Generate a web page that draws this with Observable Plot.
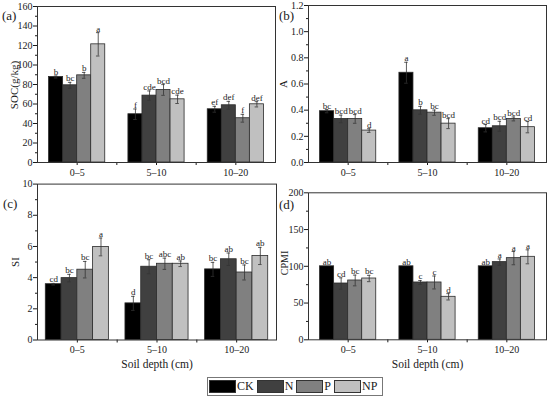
<!DOCTYPE html>
<html><head><meta charset="utf-8">
<script src="https://cdn.jsdelivr.net/npm/d3@7"></script>
<script src="https://cdn.jsdelivr.net/npm/@observablehq/plot@0.6"></script>
<style>
body{margin:0;background:#fff;}
#root{position:relative;width:550px;height:399px;font-family:"Liberation Serif","DejaVu Serif",serif;color:#1a1a1a;overflow:hidden;}
.panel{position:absolute;}
.plabel{position:absolute;font-size:13px;line-height:1;}
.ytitle{position:absolute;font-size:11px;line-height:1;white-space:nowrap;transform:translate(-50%,-50%) rotate(-90deg);}
#legend{position:absolute;left:207px;top:377px;width:176px;height:19px;border:1px solid #777;box-sizing:border-box;display:flex;align-items:center;font-size:12px;}
.sw{width:27px;height:13px;border:1px solid #333;box-sizing:border-box;margin-left:3px;}
.lt{margin-left:1px;}
</style></head><body><div id="root"></div>
<script>
const depths = ["0–5", "5–10", "10–20"];
const treatments = ["CK", "N", "P", "NP"];
const colors = ["#000000", "#404040", "#808080", "#c0c0c0"];

// (a) SOC (g/kg): rows = depth, cols = treatment
const socMean = [[87.7, 79.2, 89.4, 121.2], [49.5, 68.6, 74.4, 64.8], [54.6, 58.7, 45.4, 59.7]];
const socErr = [[1.0, 3.0, 3.0, 12.0], [5.4, 4.8, 5.5, 4.3], [3.0, 4.0, 4.0, 2.7]];
const socLetters = [["b", "bc", "b", "a"], ["f", "cde", "bcd", "cde"], ["ef", "def", "f", "def"]];

// (b) A
const aMean = [[0.392, 0.333, 0.333, 0.244], [0.686, 0.399, 0.381, 0.297], [0.262, 0.277, 0.333, 0.270]];
const aErr = [[0.012, 0.029, 0.033, 0.014], [0.08, 0.03, 0.02, 0.038], [0.028, 0.038, 0.015, 0.043]];
const aLetters = [["bc", "bcd", "bcd", "d"], ["a", "b", "bc", "bcd"], ["cd", "bcd", "bcd", "cd"]];

// (c) SI
const siMean = [[3.58, 3.97, 4.51, 5.97], [2.35, 4.70, 4.89, 4.89], [4.53, 5.18, 4.33, 5.39]];
const siErr = [[0.05, 0.24, 0.53, 0.57], [0.45, 0.45, 0.36, 0.18], [0.45, 0.40, 0.48, 0.55]];
const siLetters = [["cd", "bc", "bc", "a"], ["d", "bc", "abc", "ab"], ["bc", "ab", "bc", "ab"]];

// (d) CPMI
const cpmiMean = [[100, 76.6, 80.7, 83.4], [100, 78.0, 78.0, 58.5], [100, 105.7, 111.1, 112.9]];
const cpmiErr = [[0, 7.7, 7.3, 4.3], [0, 2.7, 8.8, 4.3], [0, 4.3, 9.0, 9.5]];
const cpmiLetters = [["ab", "cd", "bc", "bc"], ["ab", "c", "c", "d"], ["ab", "a", "a", "a"]];

const FONT = '"Liberation Serif","DejaVu Serif",serif';
const INK = "#1a1a1a";

function rowsOf(mean, err, letters, barW) {
  const rows = [];
  depths.forEach((dep, gi) => treatments.forEach((t, ti) => {
    const x1 = gi + 0.5 + (ti - 2) * barW;
    rows.push({dep, t, ti, v: mean[gi][ti], e: err[gi][ti], letter: letters[gi][ti], x1, x2: x1 + barW, c: x1 + barW / 2});
  }));
  return rows;
}

function panel(o) {
  const rows = rowsOf(o.mean, o.err, o.letters, o.barW);
  const withErr = rows.filter(d => d.e > 0);
  const cap = 0.022;
  const svg = Plot.plot({
    width: o.width, height: o.height,
    marginLeft: o.ml, marginRight: o.mr, marginTop: o.mt, marginBottom: o.mb,
    x: {domain: [0, 3], axis: null},
    y: {domain: o.yDomain, axis: null},
    style: {fontFamily: FONT, fontSize: "10px", color: INK, background: "transparent", overflow: "visible"},
    marks: [
      Plot.rectY(rows, {x1: "x1", x2: "x2", y1: 0, y2: "v", fill: d => colors[d.ti], stroke: "#2a2a2a", strokeWidth: 0.8}),
      Plot.ruleX(withErr, {x: "c", y1: d => d.v - d.e, y2: d => d.v + d.e, stroke: "#333", strokeWidth: 0.8}),
      Plot.ruleY(withErr, {y: d => d.v + d.e, x1: d => d.c - cap, x2: d => d.c + cap, stroke: "#333", strokeWidth: 0.8}),
      Plot.ruleY(withErr, {y: d => d.v - d.e, x1: d => d.c - cap, x2: d => d.c + cap, stroke: "#333", strokeWidth: 0.8}),
      Plot.text(rows, {x: "c", y: d => d.v + d.e, text: "letter", lineAnchor: "bottom", dy: -1, fontSize: 9, fill: INK, fontFamily: FONT}),
      Plot.axisY({ticks: o.yMajor, tickSize: 4, tickPadding: 1, tickFormat: o.fmt, label: null, fontSize: 10, fontFamily: FONT}),
      Plot.axisY({ticks: o.yMinor, tickSize: 2, tickFormat: () => "", label: null}),
      Plot.axisX({ticks: [0.5, 1.5, 2.5], tickSize: 3, tickPadding: 3, tickFormat: d => depths[Math.floor(d)], label: null, fontSize: 10, fontFamily: FONT}),
      Plot.axisX({ticks: [1, 2], tickSize: 3, tickFormat: () => "", label: null}),
      Plot.frame({stroke: "#333", strokeWidth: 1}),
      ...(o.xTitle ? [Plot.text([o.xTitle], {text: d => d, frameAnchor: "bottom", dy: 28, fontSize: 11.5, fill: INK, fontFamily: FONT})] : [])
    ]
  });
  svg.classList.add("panel");
  svg.style.left = o.left + "px";
  svg.style.top = o.top + "px";
  return svg;
}

const root = document.getElementById("root");
const fmt0 = d3.format("d"), fmt1 = d3.format(".1f");

root.appendChild(panel({mean: socMean, err: socErr, letters: socLetters, barW: 0.177,
  left: 0, top: 0, width: 278, height: 182, ml: 37, mr: 3, mt: 6, mb: 20,
  yDomain: [0, 160], yMajor: d3.range(0, 161, 20), yMinor: d3.range(10, 160, 20), fmt: fmt0}));

root.appendChild(panel({mean: aMean, err: aErr, letters: aLetters, barW: 0.177,
  left: 275, top: 0, width: 275, height: 182, ml: 33, mr: 4, mt: 5, mb: 20,
  yDomain: [0, 1.2], yMajor: d3.range(0, 1.21, 0.2), yMinor: d3.range(0.1, 1.2, 0.2), fmt: fmt1}));

root.appendChild(panel({mean: siMean, err: siErr, letters: siLetters, barW: 0.198,
  left: 0, top: 176, width: 278, height: 200, ml: 37, mr: 2, mt: 7.6, mb: 36.5,
  yDomain: [0, 10], yMajor: d3.range(0, 11, 2), yMinor: d3.range(1, 10, 2), fmt: fmt0,
  xTitle: "Soil depth (cm)"}));

root.appendChild(panel({mean: cpmiMean, err: cpmiErr, letters: cpmiLetters, barW: 0.177,
  left: 275, top: 176, width: 275, height: 200, ml: 33, mr: 4, mt: 16.3, mb: 36.7,
  yDomain: [0, 200], yMajor: d3.range(0, 201, 50), yMinor: d3.range(25, 200, 50), fmt: fmt0,
  xTitle: "Soil depth (cm)"}));

// y-axis titles (rotated)
[["SOC(g/kg)", 14, 85, 11], ["A", 282.5, 84, 11], ["SI", 15, 262, 11], ["CPMI", 285, 263, 10]].forEach(([t, x, y, fs]) => {
  const d = document.createElement("div");
  d.className = "ytitle"; d.textContent = t;
  d.style.left = x + "px"; d.style.top = y + "px"; d.style.fontSize = fs + "px";
  root.appendChild(d);
});

// panel labels
[["(a)", 2, 9], ["(b)", 279, 9], ["(c)", 3, 197], ["(d)", 279, 198]].forEach(([t, x, y]) => {
  const d = document.createElement("div");
  d.className = "plabel"; d.textContent = t; d.style.left = x + "px"; d.style.top = y + "px";
  root.appendChild(d);
});

// legend
const leg = document.createElement("div");
leg.id = "legend";
treatments.forEach((t, i) => {
  const s = document.createElement("div");
  s.className = "sw"; s.style.background = colors[i];
  if (i === 0) s.style.marginLeft = "1px";
  const l = document.createElement("span");
  l.className = "lt"; l.textContent = t;
  leg.appendChild(s); leg.appendChild(l);
});
root.appendChild(leg);
</script></body></html>
